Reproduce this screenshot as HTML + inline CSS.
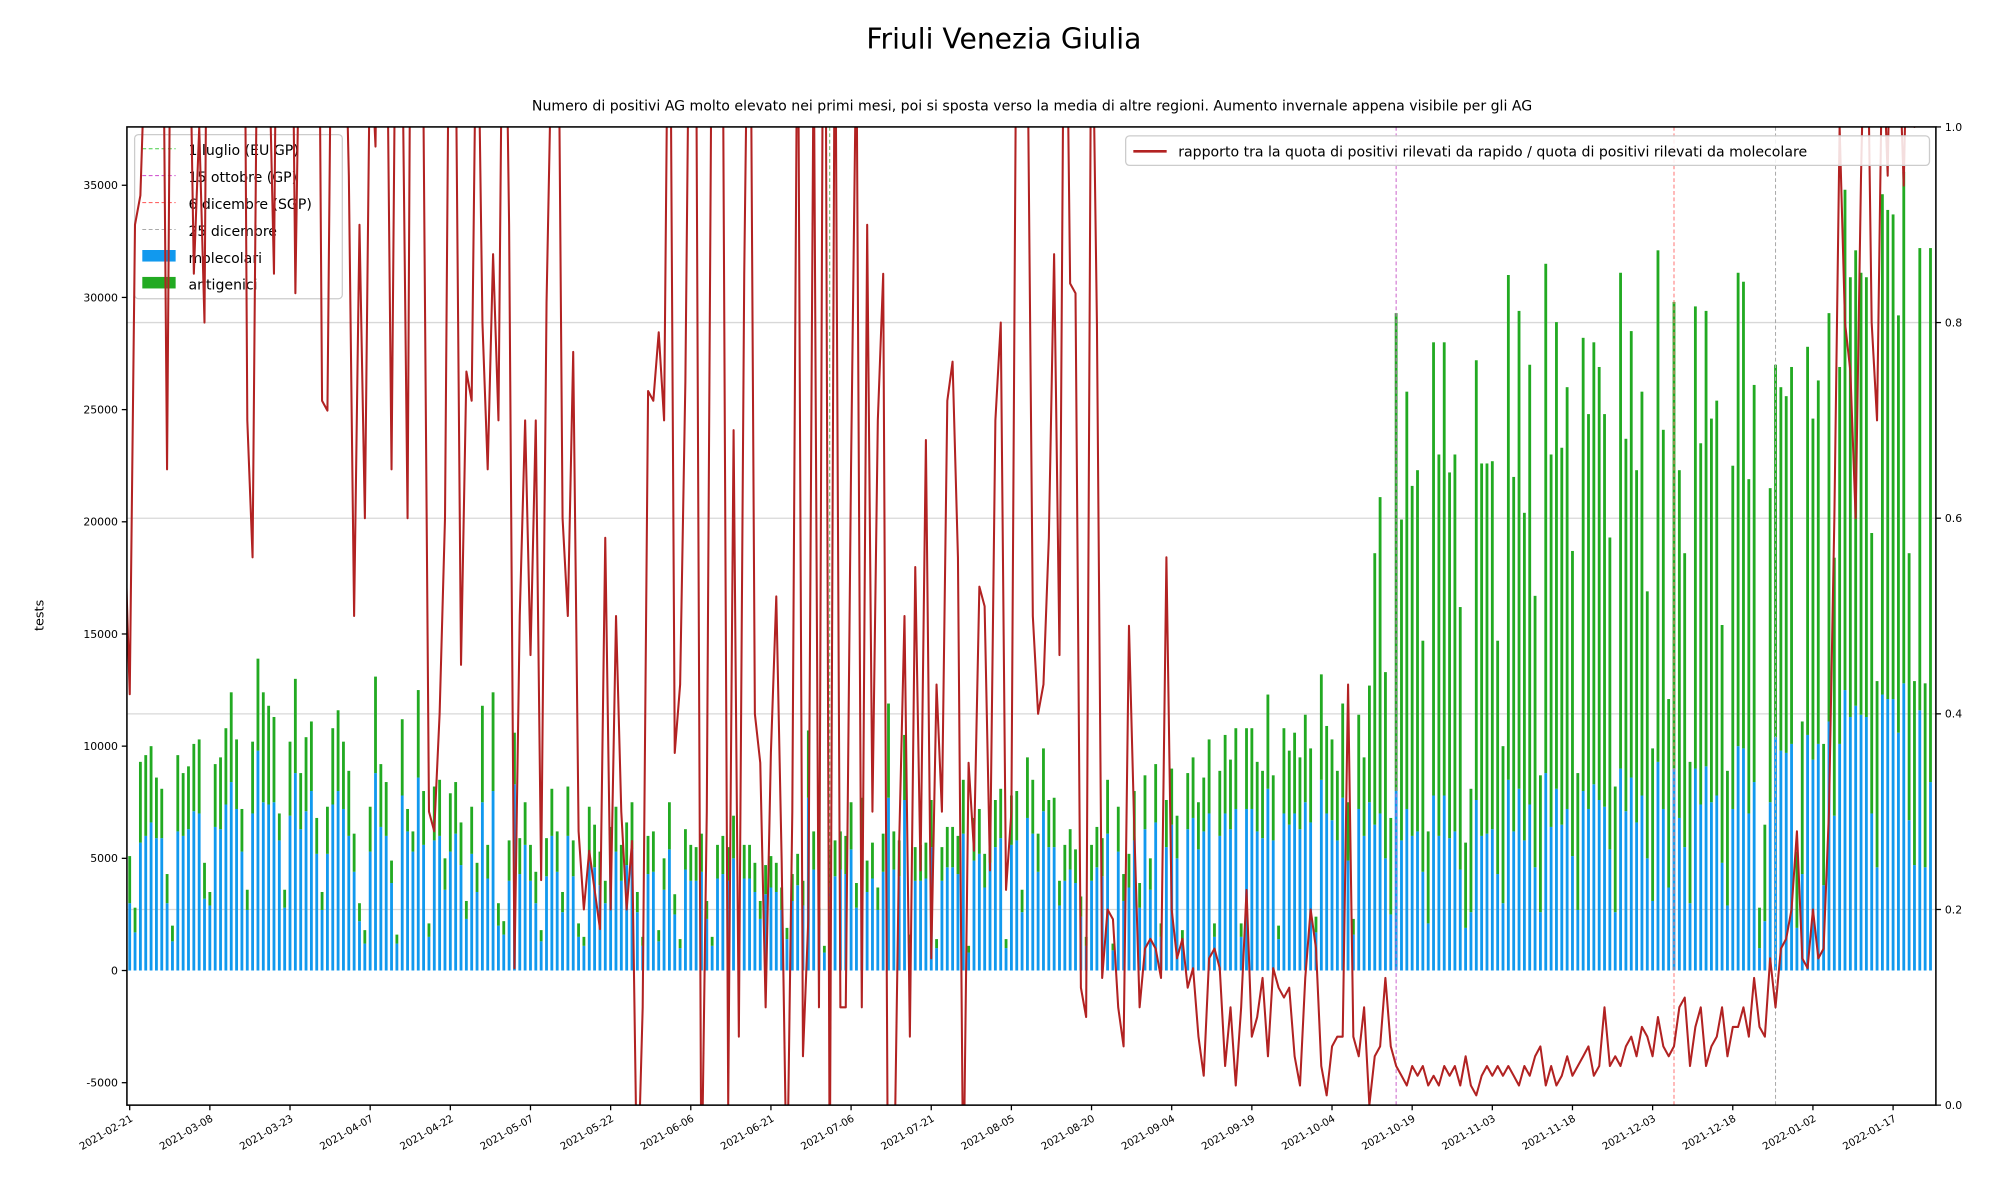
<!DOCTYPE html>
<html><head><meta charset="utf-8"><style>
html,body{margin:0;padding:0;background:#fff;width:2000px;height:1200px;overflow:hidden}
svg{display:block;font-family:"DejaVu Sans","Liberation Sans",sans-serif}
</style></head><body>
<svg id="chart" width="2000" height="1200" viewBox="0 0 1560 936" xmlns="http://www.w3.org/2000/svg">
<defs><clipPath id="plotclip"><rect x="99" y="99" width="1411" height="763"/></clipPath></defs>
<rect width="1560" height="936" fill="#fff"/>
<text x="783" y="38" text-anchor="middle" font-size="22">Friuli Venezia Giulia</text>
<text x="805" y="86" text-anchor="middle" font-size="11">Numero di positivi AG molto elevato nei primi mesi, poi si sposta verso la media di altre regioni. Aumento invernale appena visibile per gli AG</text>
<g id="grid"></g>
<g id="bars" clip-path="url(#plotclip)"></g>
<g id="vlines"></g>
<g id="legend-left">
<rect x="105" y="105" width="162" height="128" rx="3" fill="#fff" fill-opacity="0.8" stroke="#ccc"/>
<line x1="111" y1="116" x2="137" y2="116" stroke="#4c4" stroke-dasharray="3,2" stroke-width="0.8"/><text x="147" y="121" font-size="11">1 luglio (EU GP)</text>
<line x1="111" y1="137" x2="137" y2="137" stroke="#c4c" stroke-dasharray="3,2" stroke-width="0.8"/><text x="147" y="142" font-size="11">15 ottobre (GP)</text>
<line x1="111" y1="158" x2="137" y2="158" stroke="#f66" stroke-dasharray="3,2" stroke-width="0.8"/><text x="147" y="163" font-size="11">6 dicembre (SGP)</text>
<line x1="111" y1="179" x2="137" y2="179" stroke="#aaa" stroke-dasharray="3,2" stroke-width="0.8"/><text x="147" y="184" font-size="11">25 dicembre</text>
<rect x="111" y="195" width="26" height="9" fill="#1199ee"/><text x="147" y="205" font-size="11">molecolari</text>
<rect x="111" y="216" width="26" height="9" fill="#22aa22"/><text x="147" y="226" font-size="11">antigenici</text>
</g>
<g id="line" clip-path="url(#plotclip)"></g>
<g id="legend-right">
<rect x="878" y="106" width="627" height="23" rx="3" fill="#fff" fill-opacity="0.85" stroke="#ccc"/>
<line x1="884" y1="118" x2="910" y2="118" stroke="#b22222" stroke-width="2"/>
<text x="919" y="122" font-size="11">rapporto tra la quota di positivi rilevati da rapido / quota di positivi rilevati da molecolare</text>
</g>
<rect x="99" y="99" width="1411" height="763" fill="none" stroke="#000" stroke-width="1.2"/>
<g id="axes"></g>
<text transform="translate(34,480) rotate(-90)" text-anchor="middle" font-size="10">tests</text>
</svg>
<script>
const totals=[-4.0,5.1,2.8,9.3,9.6,10.0,8.6, 8.1,4.3,2.0,9.6,8.8,9.1,10.1, 10.3,4.8,3.5,9.2,9.5,10.8,12.4, 10.3,7.2,3.6,10.2,13.9,12.4,11.8, 11.3,7.0,3.6,10.2,13.0,8.8,10.4, 11.1,6.8,3.5,7.3,10.8,11.6,10.2, 8.9,6.1,3.0,1.8,7.3,13.1,9.2, 8.4,4.9,1.6,11.2,7.2,6.2,12.5, 8.0,2.1,8.2,8.5,5.0,7.9,8.4, 6.6,3.1,7.3,4.8,11.8,5.6,12.4, 3.0,2.2,5.8,10.6,5.9,7.5,5.6, 4.4,1.8,5.9,8.1,6.2,3.5,8.2, 5.8,2.1,1.5,7.3,6.5,5.3,4.0, 6.4,7.3,5.6,6.6,7.5,3.5,1.5, 6.0,6.2,1.8,5.0,7.5,3.4,1.4, 6.3,5.6,5.5,6.1,3.1,1.5,5.6, 6.0,5.5,6.9,1.1,5.6,5.6,4.8, 3.1,4.7,5.1,4.8,3.7,1.9,4.3, 5.2,4.0,10.7,6.2,2.8,1.1,5.4, 5.8,6.2,6.0,7.5,3.9,7.7,4.9, 5.7,3.7,6.1,11.9,6.2,5.8,10.5, 1.6,5.5,5.6,5.7,7.6,1.4,5.5, 6.4,6.4,6.0,8.5,1.1,6.8,7.2, 5.2,6.6,7.6,8.1,1.4,7.8,8.0, 3.6,9.5,8.5,6.1,9.9,7.6,7.7, 4.0,5.6,6.3,5.4,3.3,1.5,5.6, 6.4,5.9,8.5,1.2,7.3,4.3,5.2, 8.0,3.9,8.7,5.0,9.2,2.1,7.6, 9.0,6.9,1.8,8.8,9.5,7.5,8.6, 10.3,2.1,8.9,10.5,9.4,10.8,2.1, 10.8,10.8,9.3,8.9,12.3,8.7,2.0, 10.8,9.8,10.6,9.5,11.4,9.9,2.4, 13.2,10.9,10.3,8.9,11.9,7.5,2.3, 11.4,9.5,12.7,18.6,21.1,13.3,6.8, 29.3,20.1,25.8,21.6,22.3,14.7,6.2, 28.0,23.0,28.0,22.2,23.0,16.2,5.7, 8.1,27.2,22.6,22.6,22.7,14.7,10.0, 31.0,22.0,29.4,20.4,27.0,16.7,8.7, 31.5,23.0,28.9,23.3,26.0,18.7,8.8, 28.2,24.8,28.0,26.9,24.8,19.3,8.2, 31.1,23.7,28.5,22.3,25.8,16.9,9.9, 32.1,24.1,12.1,29.8,22.3,18.6,9.3, 29.6,23.5,29.4,24.6,25.4,15.4,8.9, 22.5,31.1,30.7,21.9,26.1,2.8,6.5, 21.5,27.0,26.0,25.6,26.9,5.3,11.1, 27.8,24.6,26.3,10.1,29.3,18.4,26.9, 34.8,30.9,32.1,31.1,30.9,19.5,12.9, 34.6,33.9,33.7,29.2,35.6,18.6,12.9, 32.2,12.8,32.2];
const molecolari=[-2.0,3.0,1.7,5.7,6.0,6.6,5.9, 5.9,3.0,1.3,6.2,6.0,6.3,7.1, 7.0,3.2,2.9,6.4,6.3,7.4,8.4, 7.2,5.3,2.7,7.0,9.8,7.5,7.4, 7.5,5.8,2.8,6.9,8.8,6.3,7.1, 8.0,5.2,2.7,5.2,7.4,8.0,7.2, 6.0,4.4,2.2,1.2,5.3,8.8,6.4, 6.0,3.9,1.2,7.8,6.2,5.3,8.6, 5.6,1.5,5.8,6.0,3.6,5.3,6.1, 4.7,2.3,5.2,3.5,7.5,4.1,8.0, 2.0,1.6,4.0,8.3,4.3,5.6,4.0, 3.0,1.3,4.2,6.0,4.4,2.6,6.0, 4.2,1.5,1.1,5.0,4.6,3.8,3.0, 4.6,5.3,4.0,4.7,5.4,2.6,1.1, 4.3,4.4,1.3,3.6,5.4,2.5,1.0, 4.5,4.0,4.0,4.4,2.3,1.1,4.1, 4.3,4.0,5.0,0.8,4.1,4.1,3.5, 2.3,3.4,3.7,3.5,2.7,1.4,3.1, 3.8,2.9,7.7,4.5,2.0,0.8,3.9, 4.2,4.5,4.3,5.4,2.8,5.5,3.5, 4.1,2.7,4.4,7.7,4.5,4.2,7.6, 1.2,4.0,4.0,4.1,5.5,1.0,4.0, 4.6,4.6,4.3,6.1,0.8,4.9,5.2, 3.7,4.8,5.5,5.9,1.0,5.6,5.8, 2.6,6.8,6.1,4.4,7.1,5.5,5.5, 2.9,4.0,4.5,3.9,2.4,1.1,4.0, 4.6,4.2,6.1,0.9,5.3,3.1,3.7, 5.8,2.8,6.3,3.6,6.6,1.5,5.5, 6.5,5.0,1.3,6.3,6.8,5.4,6.2, 7.0,1.5,6.0,7.0,6.3,7.2,1.5, 7.2,7.2,6.2,5.9,8.1,5.8,1.4, 7.0,6.5,7.0,6.3,7.5,6.6,1.7, 8.5,7.0,6.7,5.8,7.7,4.9,1.6, 7.2,6.0,7.5,6.5,7.0,5.0,2.5, 8.0,5.8,7.2,6.0,6.2,4.4,2.1, 7.8,6.0,7.8,5.9,6.2,4.5,1.9, 2.6,7.6,6.0,6.1,6.3,4.3,3.0, 8.5,6.2,8.1,5.8,7.4,4.6,2.6, 8.8,6.4,8.1,6.5,7.2,5.1,2.7, 8.0,7.2,8.3,7.6,7.3,5.4,2.6, 9.0,7.1,8.6,6.6,7.8,5.0,3.1, 9.3,7.2,3.7,9.0,6.8,5.5,3.0, 9.0,7.4,9.1,7.5,7.8,4.8,2.9, 7.2,10.0,9.9,7.0,8.4,1.0,2.2, 7.5,10.4,9.8,9.7,10.1,1.9,4.3, 10.5,9.4,10.1,3.8,11.1,6.9,10.1, 12.5,11.3,11.8,11.4,11.3,7.0,4.6, 12.3,12.1,12.1,10.6,12.8,6.7,4.7, 11.6,4.6,8.4];
const rapporto=[0.6,0.42,0.9,0.93,1.1,1.5,1.2, 1.3,0.65,1.4,1.6,1.5,1.2,0.85, 1.0,0.8,1.6,1.3,1.2,1.4,1.5, 1.3,1.6,0.7,0.56,1.2,1.3,1.1, 0.85,1.5,1.3,1.4,0.83,1.2,1.3, 1.1,1.5,0.72,0.71,1.3,1.4,1.2, 0.95,0.5,0.9,0.6,1.1,0.98,1.5, 1.2,0.65,1.3,1.1,0.6,1.6,1.1, 1.0,0.3,0.28,0.4,0.6,1.3,1.1, 0.45,0.75,0.72,1.2,0.8,0.65,0.87, 0.7,1.3,0.9,0.14,0.5,0.7,0.46, 0.7,0.23,0.82,1.1,1.3,0.6,0.5, 0.77,0.28,0.2,0.26,0.22,0.18,0.58, 0.2,0.5,0.3,0.2,0.27,-0.1,0.1, 0.73,0.72,0.79,0.7,1.3,0.36,0.43, 0.74,1.3,1.1,-0.1,0.3,1.2,1.5, 1.1,0.0,0.69,0.07,0.85,1.3,0.4, 0.35,0.1,0.36,0.52,0.25,-0.1,0.3, 1.2,0.05,0.19,1.1,0.1,1.5,-0.1, 1.2,0.1,0.1,0.65,1.1,0.1,0.9, 0.3,0.7,0.85,-0.2,-0.1,0.27,0.5, 0.07,0.55,0.24,0.68,0.15,0.43,0.3, 0.72,0.76,0.56,-0.1,0.35,0.26,0.53, 0.51,0.24,0.7,0.8,0.22,0.3,1.2, 1.1,1.1,0.5,0.4,0.43,0.58,0.87, 0.46,1.3,0.84,0.83,0.12,0.09,1.2, 0.8,0.13,0.2,0.19,0.1,0.06,0.49, 0.28,0.1,0.16,0.17,0.16,0.13,0.56, 0.2,0.15,0.17,0.12,0.14,0.07,0.03, 0.15,0.16,0.14,0.04,0.1,0.02,0.1, 0.22,0.07,0.09,0.13,0.05,0.14,0.12, 0.11,0.12,0.05,0.02,0.13,0.2,0.16, 0.04,0.01,0.06,0.07,0.07,0.43,0.07, 0.05,0.1,0.0,0.05,0.06,0.13,0.06, 0.04,0.03,0.02,0.04,0.03,0.04,0.02, 0.03,0.02,0.04,0.03,0.04,0.02,0.05, 0.02,0.01,0.03,0.04,0.03,0.04,0.03, 0.04,0.03,0.02,0.04,0.03,0.05,0.06, 0.02,0.04,0.02,0.03,0.05,0.03,0.04, 0.05,0.06,0.03,0.04,0.1,0.04,0.05, 0.04,0.06,0.07,0.05,0.08,0.07,0.05, 0.09,0.06,0.05,0.06,0.1,0.11,0.04, 0.08,0.1,0.04,0.06,0.07,0.1,0.05, 0.08,0.08,0.1,0.07,0.13,0.08,0.07, 0.15,0.1,0.16,0.17,0.2,0.28,0.15, 0.14,0.2,0.15,0.16,0.3,0.6,1.0, 0.8,0.75,0.6,0.95,1.2,0.8,0.7, 1.1,0.95,1.3,1.1,0.94,1.2,1.0, 1.1,1.2,1.3];
const yTicks=[-5000,0,5000,10000,15000,20000,25000,30000,35000];
const y2Ticks=[0.0,0.2,0.4,0.6,0.8,1.0];
const xTickLabels=["2021-02-21","2021-03-08","2021-03-23","2021-04-07","2021-04-22","2021-05-07","2021-05-22","2021-06-06","2021-06-21","2021-07-06","2021-07-21","2021-08-05","2021-08-20","2021-09-04","2021-09-19","2021-10-04","2021-10-19","2021-11-03","2021-11-18","2021-12-03","2021-12-18","2022-01-02","2022-01-17"];
const eventDays=[132,238,290,309];
const eventColors=["#66bb66","#cc66cc","#ff7777","#aaaaaa"];

const NS="http://www.w3.org/2000/svg";
const X0=97, DX=4.168;
function xs(i){return X0+i*DX;}
function ys(v){return 757-v*87.5/5000;}
function y2(v){return 862-v*763;}
function mk(tag,attrs,parent){const e=document.createElementNS(NS,tag);for(const k in attrs)e.setAttribute(k,attrs[k]);parent.appendChild(e);return e;}

const grid=document.getElementById('grid');
y2Ticks.forEach(t=>{if(t>0&&t<1){const l=mk('line',{x1:99,x2:1510,y1:y2(t),y2:y2(t),stroke:'#d8d8d8','stroke-width':1},grid);

}});

const bars=document.getElementById('bars');
totals.forEach((tot,i)=>{
  const m=molecolari[i]*1000, t=tot*1000, x=xs(i)-1.1;
  const b=mk('rect',{x:x,y:Math.min(ys(m),ys(0)),width:2.2,height:Math.abs(ys(m)-ys(0)),fill:'#1199ee'},bars);
  
  
  const g=mk('rect',{x:x,y:Math.min(ys(t),ys(m)),width:2.2,height:Math.abs(ys(t)-ys(m)),fill:'#22aa22'},bars);
  
  
});

const vl=document.getElementById('vlines');
eventDays.forEach((d,k)=>{const l=mk('line',{x1:xs(d),x2:xs(d),y1:99,y2:862,stroke:eventColors[k],'stroke-width':0.8,'stroke-dasharray':'3,2'},vl);

});

const lineG=document.getElementById('line');
const pts=rapporto.map((v,i)=>xs(i).toFixed(1)+','+y2(v).toFixed(1)).join(' ');
const pl=mk('polyline',{points:pts,fill:'none',stroke:'#b22222','stroke-width':1.6,'stroke-linejoin':'round'},lineG);



const ax=document.getElementById('axes');
yTicks.forEach(t=>{const y=ys(t);
  mk('line',{x1:95,x2:99,y1:y,y2:y,stroke:'#000'},ax);
  const tx=mk('text',{x:92,y:y+3,'text-anchor':'end','font-size':8.5},ax);tx.textContent=t;
  
  });
y2Ticks.forEach(t=>{const y=y2(t);
  mk('line',{x1:1510,x2:1514,y1:y,y2:y,stroke:'#000'},ax);
  const tx=mk('text',{x:1517,y:y+3,'font-size':8.5},ax);tx.textContent=t.toFixed(1);
  
  });
xTickLabels.forEach((lab,k)=>{const x=xs(1+15*k);
  mk('line',{x1:x,x2:x,y1:862,y2:866,stroke:'#000'},ax);
  const tx=mk('text',{x:x+3,y:874,'text-anchor':'end','font-size':8,transform:'rotate(-30 '+(x+3)+' 874)'},ax);tx.textContent=lab;
  
  });
</script>
</body></html>
